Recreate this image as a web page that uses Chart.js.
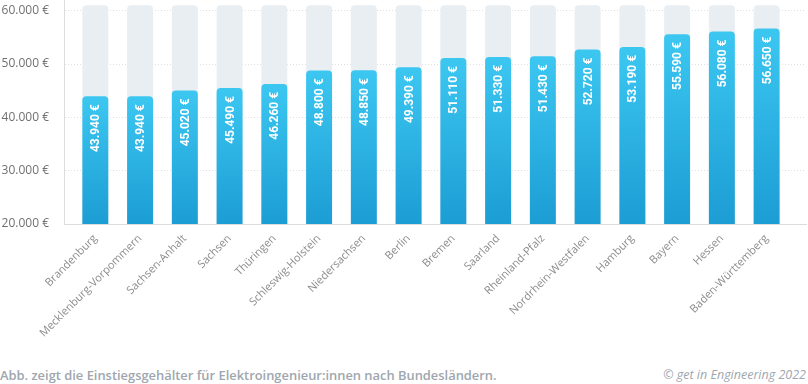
<!DOCTYPE html>
<html>
<head>
<meta charset="utf-8">
<script src="https://cdn.jsdelivr.net/npm/chart.js@4/dist/chart.umd.min.js"></script>
<style>
  html, body { margin: 0; padding: 0; background: #fff; }
  #wrap { position: relative; width: 808px; height: 384px; overflow: hidden; }
  #chartBox { position: absolute; left: 0; top: 0; width: 808px; height: 345px; }
  .foot { position: absolute; top: 366px; font-family: "Open Sans", sans-serif; font-size: 12.5px; color: #9ea6ae; }
  #caption { left: 0; font-weight: 600; font-size: 12.9px; }
  #credit { right: 2px; font-style: italic; }
</style>
</head>
<body>
<div id="wrap">
  <div id="chartBox"><canvas id="salaryChart"></canvas></div>
  <div class="foot" id="caption">Abb. zeigt die Einstiegsgehälter für Elektroingenieur:innen nach Bundesländern.</div>
  <div class="foot" id="credit">© get in Engineering 2022</div>
</div>
<script>
const states = ['Brandenburg', 'Mecklenburg-Vorpommern', 'Sachsen-Anhalt', 'Sachsen', 'Thüringen',
  'Schleswig-Holstein', 'Niedersachsen', 'Berlin', 'Bremen', 'Saarland', 'Rheinland-Pfalz',
  'Nordrhein-Westfalen', 'Hamburg', 'Bayern', 'Hessen', 'Baden-Württemberg'];
const salaries = [43940, 43940, 45020, 45490, 46260, 48800, 48850, 49390, 51110, 51330, 51430,
  52720, 53190, 55590, 56080, 56650];
const trackValues = states.map(() => 61000);
const yTicks = [20000, 30000, 40000, 50000, 60000];
const yMin = 20000;
const yMax = 62000;

const euro = v => v.toLocaleString('de-DE') + ' €';

const barGradient = (context) => {
  const chart = context.chart;
  if (!chart.chartArea || context.raw === undefined) return '#2bb3e6';
  const yScale = chart.scales.y;
  const top = yScale.getPixelForValue(context.raw);
  const bottom = yScale.getPixelForValue(yMin);
  const g = chart.ctx.createLinearGradient(0, top, 0, bottom);
  g.addColorStop(0, '#3cc7f1');
  g.addColorStop(1, '#1c9dd4');
  return g;
};

const valueLabels = {
  id: 'valueLabels',
  afterDatasetsDraw(chart) {
    const ctx = chart.ctx;
    const meta = chart.getDatasetMeta(1);
    ctx.save();
    ctx.fillStyle = '#ffffff';
    ctx.font = 'bold 12px Roboto, sans-serif';
    ctx.textAlign = 'right';
    ctx.textBaseline = 'middle';
    meta.data.forEach((bar, i) => {
      ctx.save();
      ctx.translate(bar.x + 1, bar.y + 8);
      ctx.rotate(-Math.PI / 2);
      ctx.fillText(euro(salaries[i]), 0, 0);
      ctx.restore();
    });
    ctx.restore();
  }
};

new Chart(document.getElementById('salaryChart').getContext('2d'), {
  type: 'bar',
  data: {
    labels: states,
    datasets: [{
      label: 'Track',
      data: trackValues,
      backgroundColor: '#e9eef2',
      borderRadius: 4,
      borderSkipped: 'bottom',
      grouped: false,
      order: 2,
      barPercentage: 0.58,
      categoryPercentage: 1
    }, {
      label: 'Einstiegsgehalt',
      data: salaries,
      backgroundColor: barGradient,
      borderRadius: 4,
      borderSkipped: 'bottom',
      grouped: false,
      order: 1,
      barPercentage: 0.58,
      categoryPercentage: 1
    }]
  },
  options: {
    responsive: true,
    maintainAspectRatio: false,
    animation: false,
    layout: { padding: { left: 0, right: 2, top: 0, bottom: 0 } },
    plugins: { legend: { display: false }, tooltip: { enabled: false } },
    scales: {
      x: {
        grid: { display: false },
        border: { display: true, color: '#dcdcdc' },
        ticks: {
          autoSkip: false,
          maxRotation: 45,
          minRotation: 45,
          padding: 0,
          color: '#8c8c8c',
          font: { family: 'Open Sans', size: 11 }
        },
        afterFit: scale => { scale.height = 121; scale.paddingLeft = 0; scale.paddingRight = 0; },
        afterBuildTicks: scale => {
          scale._startValue = -0.7;
          scale._valueRange = 16.58;
        }
      },
      y: {
        min: yMin,
        max: yMax,
        ticks: {
          padding: 15,
          color: '#707070',
          font: { family: 'Open Sans', size: 12 },
          callback: v => euro(v)
        },
        grid: { color: '#e0e0e0', drawTicks: false },
        border: { display: true, color: '#dcdcdc', dash: [1, 2] },
        afterBuildTicks: scale => {
          scale.ticks = yTicks.map(v => ({ value: v }));
        },
        afterFit: scale => { scale.width = 64; scale.paddingTop = 0; scale.paddingBottom = 0; }
      }
    }
  },
  plugins: [valueLabels]
});
</script>
</body>
</html>
